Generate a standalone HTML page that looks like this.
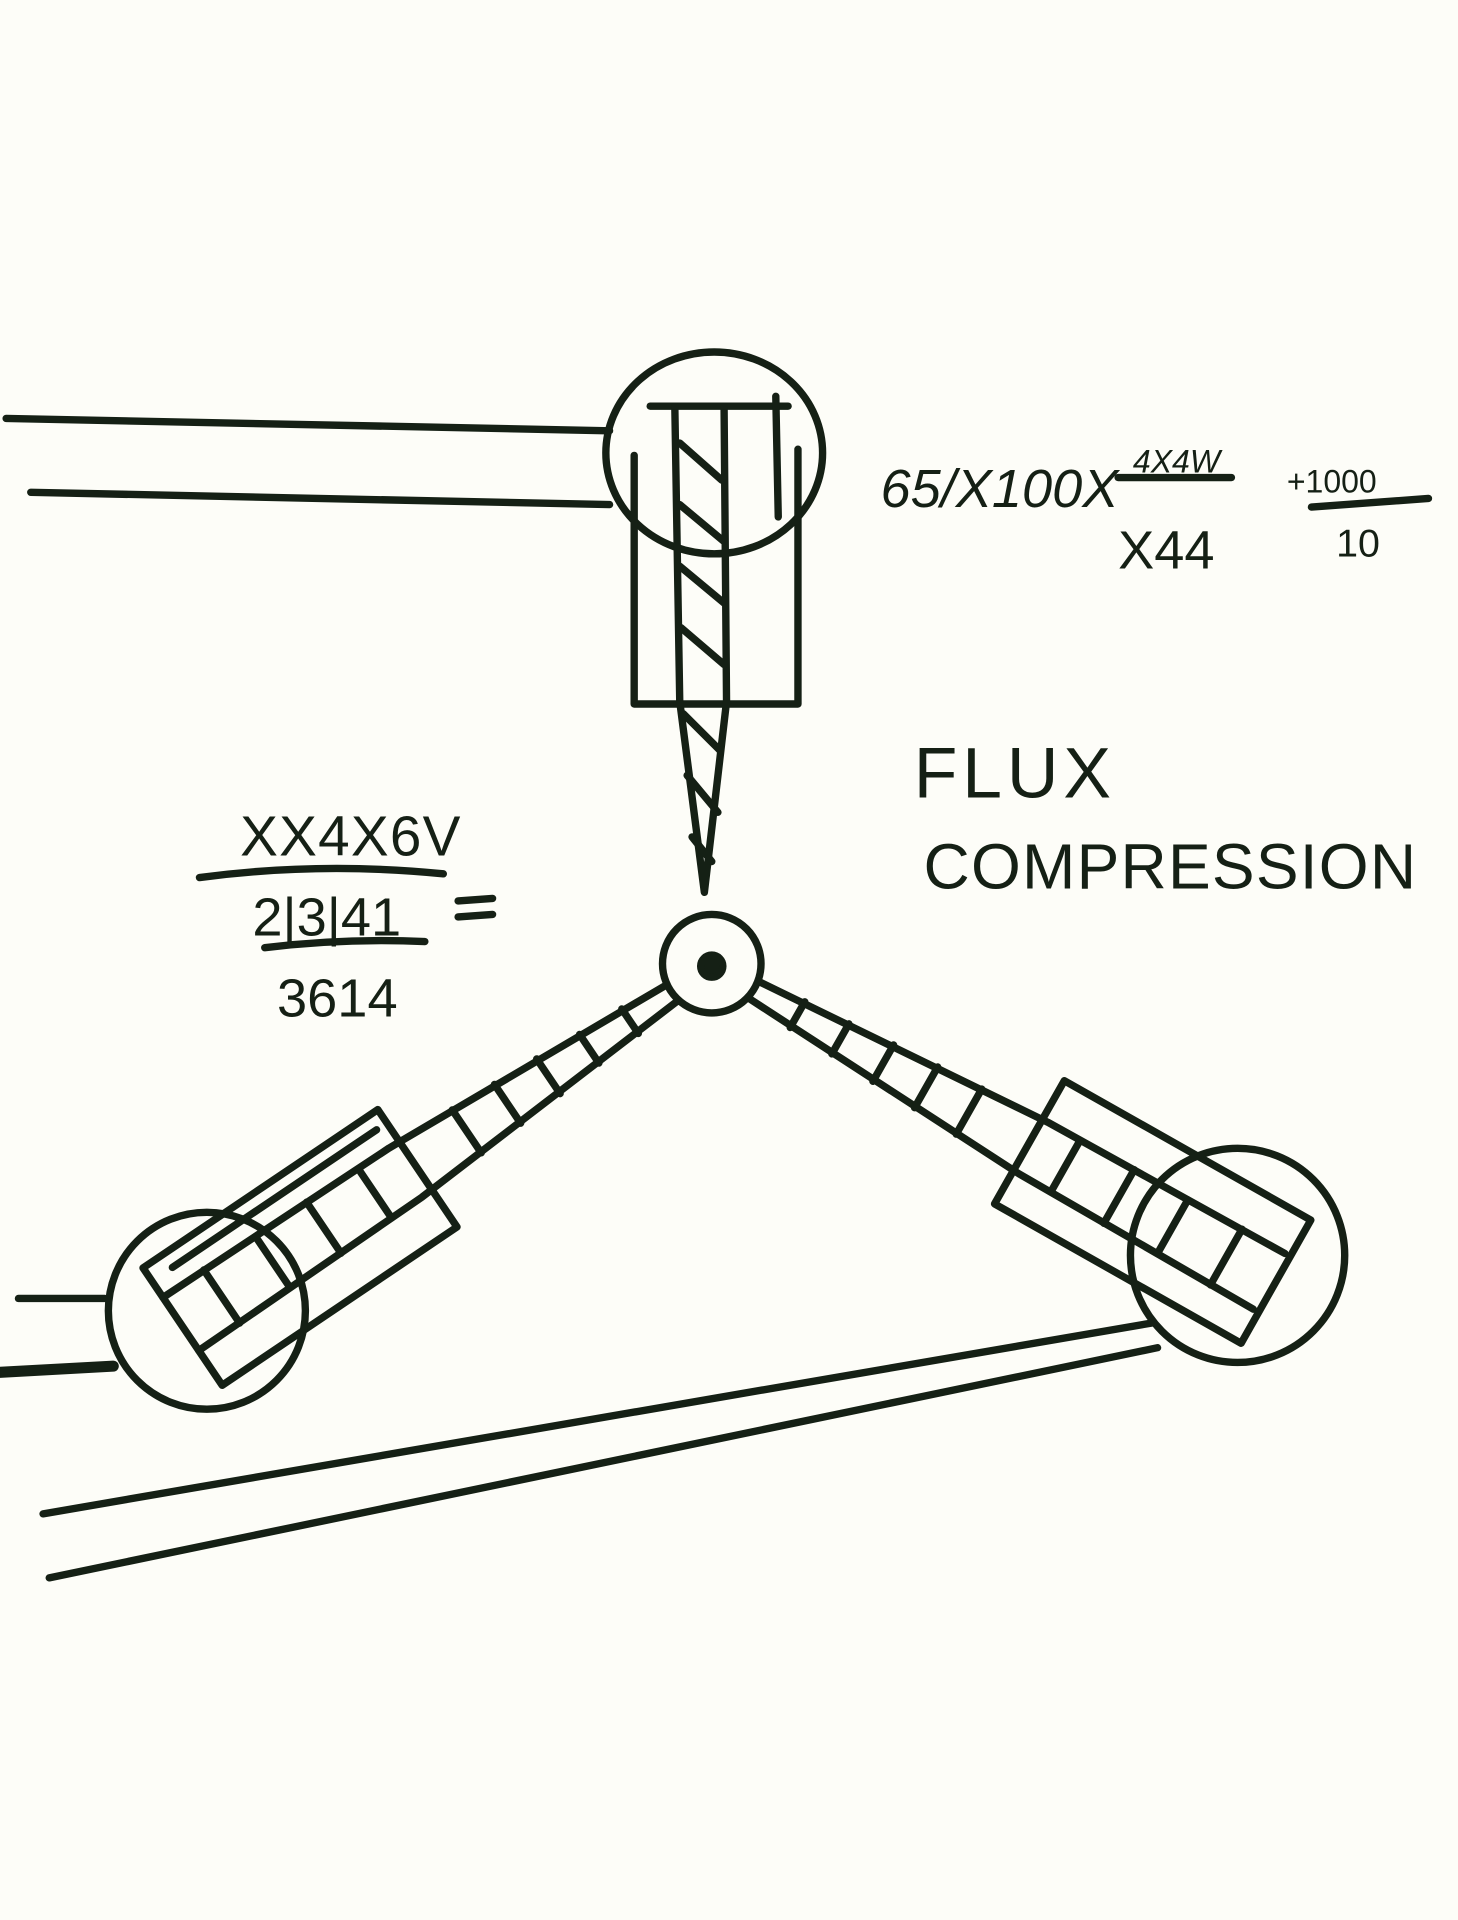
<!DOCTYPE html>
<html><head><meta charset="utf-8"><style>
html,body{margin:0;padding:0;background:#fdfdf8;}
svg{display:block;}
text{font-family:"Liberation Sans",sans-serif;fill:#152015;}
</style></head><body>
<svg width="1458" height="1920" viewBox="0 0 1184 1560" preserveAspectRatio="none" xmlns="http://www.w3.org/2000/svg">
<rect width="1184" height="1560" fill="#fdfdf8"/>
<g stroke="#152015" stroke-width="6" fill="none" stroke-linecap="round" stroke-linejoin="round">
<path d="M5 340 L495 350"/>
<path d="M25 400 L495 410"/>
<ellipse cx="580" cy="368" rx="88" ry="82"/>
<path d="M515 370 L515 572 L648 572 L648 365"/>
<path d="M528 330 L640 330"/>
<path d="M630 322 L632 420"/>
<path d="M548 330 L552 570 L572 725 L590 570 L588 330"/>
<path d="M552 360 L586 390 M552 410 L588 440 M552 460 L588 490 M553 510 L588 540 M555 580 L585 610 M558 630 L583 660 M562 680 L578 700"/>
<circle cx="578" cy="783" r="40"/>
<circle cx="578" cy="785" r="9" fill="#152015"/>
<g transform="translate(578,785) rotate(146)">
<path d="M40 -8 L300 -24 L520 -26 M40 8 L300 24 L520 26"/>
<path d="M80 -12 L80 12 M120 -14 L120 14 M160 -17 L160 17 M200 -19 L200 19 M240 -21 L240 21 M330 -24 L330 24 M380 -25 L380 25 M430 -25 L430 25 M480 -26 L480 26"/>
<rect x="290" y="-60" width="230" height="115"/>
<path d="M300 42 L500 42"/>
</g>
<circle cx="168" cy="1065" r="80"/>
<path d="M15 1055 L85 1055"/>
<path d="M0 1115 L92 1110" stroke-width="9"/>
<g transform="translate(578,785) rotate(29.5)">
<path d="M40 -8 L300 -24 L520 -26 M40 8 L300 24 L520 26"/>
<path d="M80 -12 L80 12 M120 -14 L120 14 M160 -17 L160 17 M200 -19 L200 19 M240 -21 L240 21 M330 -24 L330 24 M380 -25 L380 25 M430 -25 L430 25 M480 -26 L480 26"/>
<rect x="295" y="-60" width="230" height="115"/>
</g>
<circle cx="1005" cy="1020" r="87"/>
<path d="M35 1230 L935 1075"/>
<path d="M40 1282 L940 1095"/>
<path d="M162 713 Q260 700 360 710"/>
<path d="M215 770 Q280 762 345 765"/>
<path d="M372 732 L400 730 M372 745 L400 743"/>
<path d="M908 388 L1000 388"/>
<path d="M1065 412 L1160 405"/>
</g>
<text x="715" y="412" font-size="44" font-style="italic">65/X100X</text>
<text x="920" y="384" font-size="26" font-style="italic">4X4W</text>
<text x="908" y="462" font-size="44">X44</text>
<text x="1045" y="400" font-size="26">+1000</text>
<text x="1085" y="452" font-size="32">10</text>
<text x="742" y="648" font-size="58" letter-spacing="4">FLUX</text>
<text x="750" y="722" font-size="52" letter-spacing="1">COMPRESSION</text>
<text x="195" y="695" font-size="46" letter-spacing="1">XX4X6V</text>
<text x="205" y="760" font-size="44">2|3|41</text>
<text x="225" y="826" font-size="44">3614</text>
</svg>
</body></html>
